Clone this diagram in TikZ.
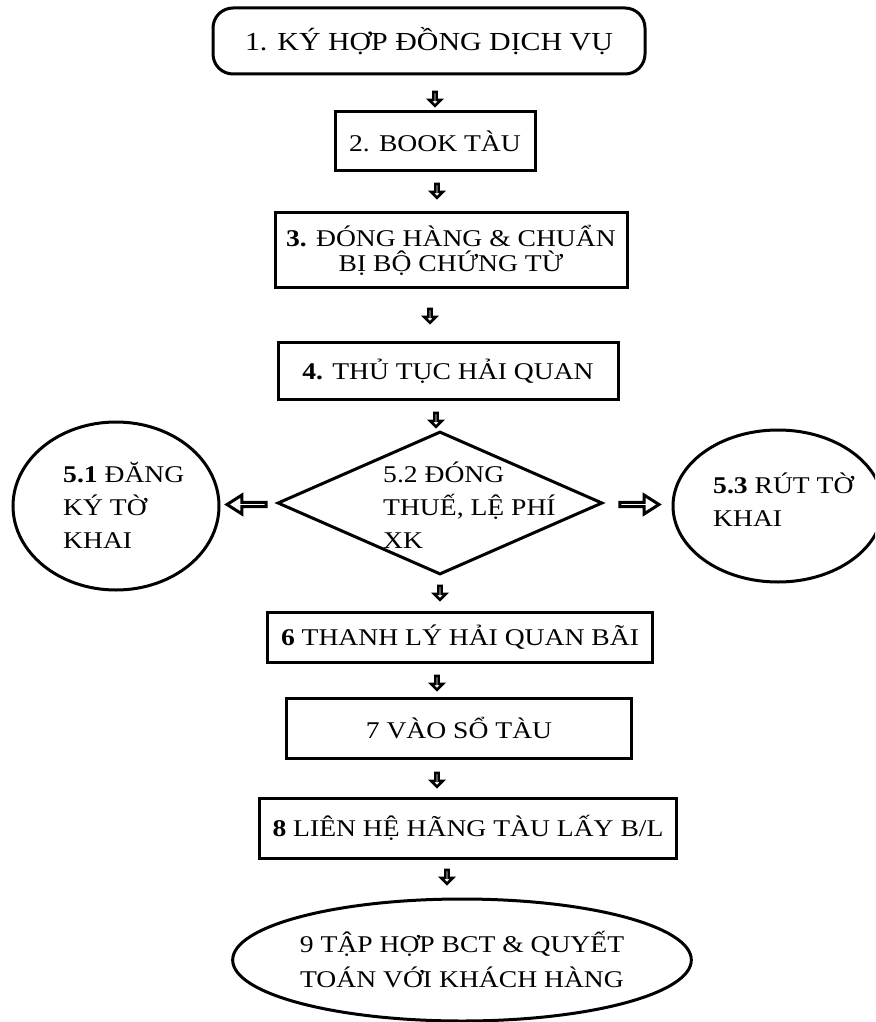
\documentclass[tikz,border=0pt]{standalone}
\usepackage{fontspec}
\setmainfont{Liberation Serif}[FakeStretch=1.15]
\usetikzlibrary{shapes.geometric,shapes.arrows,calc}
\begin{document}
\begin{tikzpicture}[x=1pt,y=-1pt,
  stepbox/.style={draw=black, line width=3pt, rectangle, inner sep=0pt, align=center,
    font=\fontsize{24}{25}\selectfont},
  roundbox/.style={stepbox, rounded corners=20pt},
  oval/.style={draw=black, line width=3pt, ellipse, inner sep=0pt},
  lbl/.style={inner sep=0pt, anchor=west, align=left, font=\fontsize{24}{33}\selectfont},
  downarr/.style={single arrow, draw=black, fill=white, line width=2.6pt, inner sep=0pt,
    minimum width=12pt, minimum height=14pt, single arrow head extend=3.5pt,
    shape border rotate=270},
  sidearr/.style={single arrow, draw=black, fill=white, line width=3pt, inner sep=0pt,
    minimum width=19pt, minimum height=39pt, single arrow head extend=5pt,
    single arrow tip angle=65}
]
\useasboundingbox (0,0) rectangle (875,1022);
\fill[white] (0,0) rectangle (875,1022);
\clip (0,0) rectangle (875,1022);

\node[roundbox, minimum width=432pt, minimum height=66pt, font=\fontsize{26}{26}\selectfont]
  (n1) at (429,41) {1. KÝ HỢP ĐỒNG DỊCH VỤ};
\node[stepbox, minimum width=200pt, minimum height=58pt] (n2) at (435,141) {2. BOOK TÀU};
\node[stepbox, minimum width=352pt, minimum height=75pt] (n3) at (451,250)
  {\textbf{3.} ĐÓNG HÀNG \& CHUẨN\\BỊ BỘ CHỨNG TỪ};
\node[stepbox, minimum width=340pt, minimum height=57pt] (n4) at (448,371)
  {\textbf{4.} THỦ TỤC HẢI QUAN};

\node[draw=black, line width=3pt, diamond, inner sep=0pt, minimum width=325pt, minimum height=143pt]
  (d5) at (440,503) {};
\node[lbl] (t52) at (383,505) {5.2 ĐÓNG\\THUẾ, LỆ PHÍ\\XK};

\node[oval, minimum width=206pt, minimum height=168pt] (e51) at (116,506) {};
\node[lbl] (t51) at (63,505) {\textbf{5.1} ĐĂNG\\KÝ TỜ\\KHAI};

\node[oval, minimum width=210pt, minimum height=152pt] (e53) at (778,506) {};
\node[lbl] (t53) at (713,500) {\textbf{5.3} RÚT TỜ\\KHAI};

\node[stepbox, minimum width=385pt, minimum height=50pt] (n6) at (460,637)
  {\textbf{6} THANH LÝ HẢI QUAN BÃI};
\node[stepbox, minimum width=345pt, minimum height=60pt] (n7) at (459,728)
  {7 VÀO SỔ TÀU};
\node[stepbox, minimum width=417pt, minimum height=60pt] (n8) at (468,828)
  {\textbf{8} LIÊN HỆ HÃNG TÀU LẤY B/L};
\node[oval, minimum width=400pt, minimum height=122pt, align=center,
  font=\fontsize{24}{35}\selectfont] (e9) at (462,960)
  {9 TẬP HỢP BCT \& QUYẾT\\TOÁN VỚI KHÁCH HÀNG};

% small block arrows between the steps
\node[downarr] (a1) at (435,98) {};
\node[downarr] (a2) at (437,190) {};
\node[downarr] (a3) at (430,315) {};
\node[downarr] (a4) at (436,419) {};
\node[downarr] (a5) at (440,592) {};
\node[downarr] (a6) at (437,682) {};
\node[downarr] (a7) at (437,779) {};
\node[downarr] (a8) at (447,876) {};

% hollow side arrows
\node[sidearr, shape border rotate=180] (s1) at ($(e51.east)!0.5!(d5.west)$) {};
\node[sidearr] (s3) at ($(d5.east)!0.5!(e53.west)$) {};
\end{tikzpicture}
\end{document}
